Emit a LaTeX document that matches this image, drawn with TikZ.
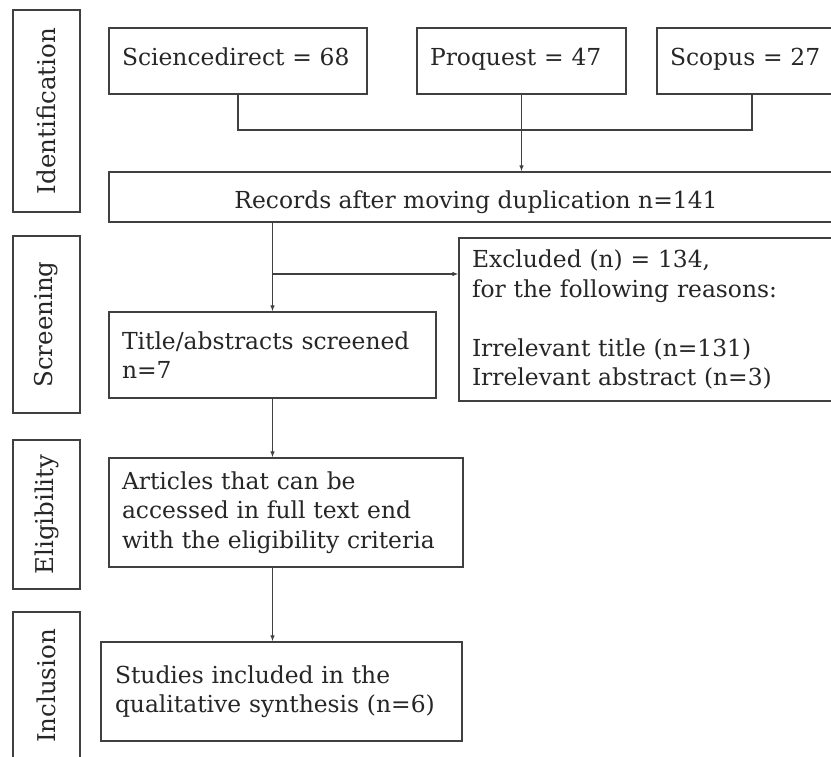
\documentclass[tikz,border=0pt]{standalone}
\usepackage{fontspec}
\setmainfont{DejaVu Serif}
\usetikzlibrary{arrows.meta}
\definecolor{ln}{HTML}{404040}
\definecolor{tx}{HTML}{262626}
\begin{document}
\begin{tikzpicture}[x=1pt,y=-1pt,
  box/.style={draw=ln, line width=1.2pt, rectangle, inner sep=0pt, text=tx,
    font=\fontsize{23.4}{29.5}\selectfont},
  pbox/.style={box, align=left, inner xsep=13pt},
  lab/.style={box, rotate=90, minimum height=67pt, align=center,
    font=\fontsize{24.5}{29.5}\selectfont},
  conn/.style={draw=ln, line width=1.1pt},
  arr/.style={conn, -{Latex[length=6pt,width=4.5pt]}}]
\useasboundingbox (0,0) rectangle (831,756);
\clip (0,0) rectangle (831,756);
\fill[white] (0,0) rectangle (831,756);

% stage labels
\node[lab, minimum width=202pt] (idl) at (46.5,111) {Identification};
\node[lab, minimum width=177pt] (scl) at (46.5,324.5) {Screening};
\node[lab, minimum width=149pt] (ell) at (46.5,514.5) {Eligibility};
\node[lab, minimum width=148pt] (inl) at (46.5,686) {Inclusion};

% identification
\node[pbox, text width=232pt, minimum height=66pt, text height=15pt, text depth=7pt] (sd) at (238,61) {Sciencedirect = 68};
\node[pbox, text width=183pt, minimum height=66pt, text height=15pt, text depth=7pt] (pq) at (521.5,61) {Proquest = 47};
\node[pbox, text width=164pt, minimum height=66pt, text height=15pt, text depth=7pt] (sc) at (752,61) {Scopus = 27};
\node[box, minimum width=734pt, minimum height=50pt, text height=22pt, text depth=0pt] (rec) at (476,197) {Records after moving duplication n=141};

% screening
\node[pbox, text width=301pt, minimum height=86pt] (tit) at (272.5,355) {Title/abstracts screened\\n=7};
\node[pbox, text width=365pt, minimum height=163pt] (exc) at (654.5,319.5) {Excluded (n) = 134,\\for the following reasons:\\\mbox{}\\Irrelevant title (n=131)\\Irrelevant abstract (n=3)};

% eligibility
\node[pbox, text width=328pt, minimum height=109pt] (art) at (286,512.5) {Articles that can be\\accessed in full text end\\with the eligibility criteria};

% inclusion
\node[pbox, inner xsep=14pt, text width=333pt, minimum height=99pt] (stu) at (281.5,691.5) {Studies included in the\\qualitative synthesis (n=6)};

% connectors
\coordinate (bus) at (0,130);
\coordinate (br) at (0,274);
\draw[conn] (sd.south) -- (sd.south |- bus) -- (sc.south |- bus) -- (sc.south);
\draw[arr] (pq.south) -- (pq.south |- rec.north);
\draw[arr] (rec.south -| tit.north) -- (tit.north);
\draw[arr] (tit.north |- br) -- (exc.west |- br);
\draw[arr] (tit.south) -- (tit.south |- art.north);
\draw[arr] (tit.south |- art.south) -- (tit.south |- stu.north);
\end{tikzpicture}
\end{document}
